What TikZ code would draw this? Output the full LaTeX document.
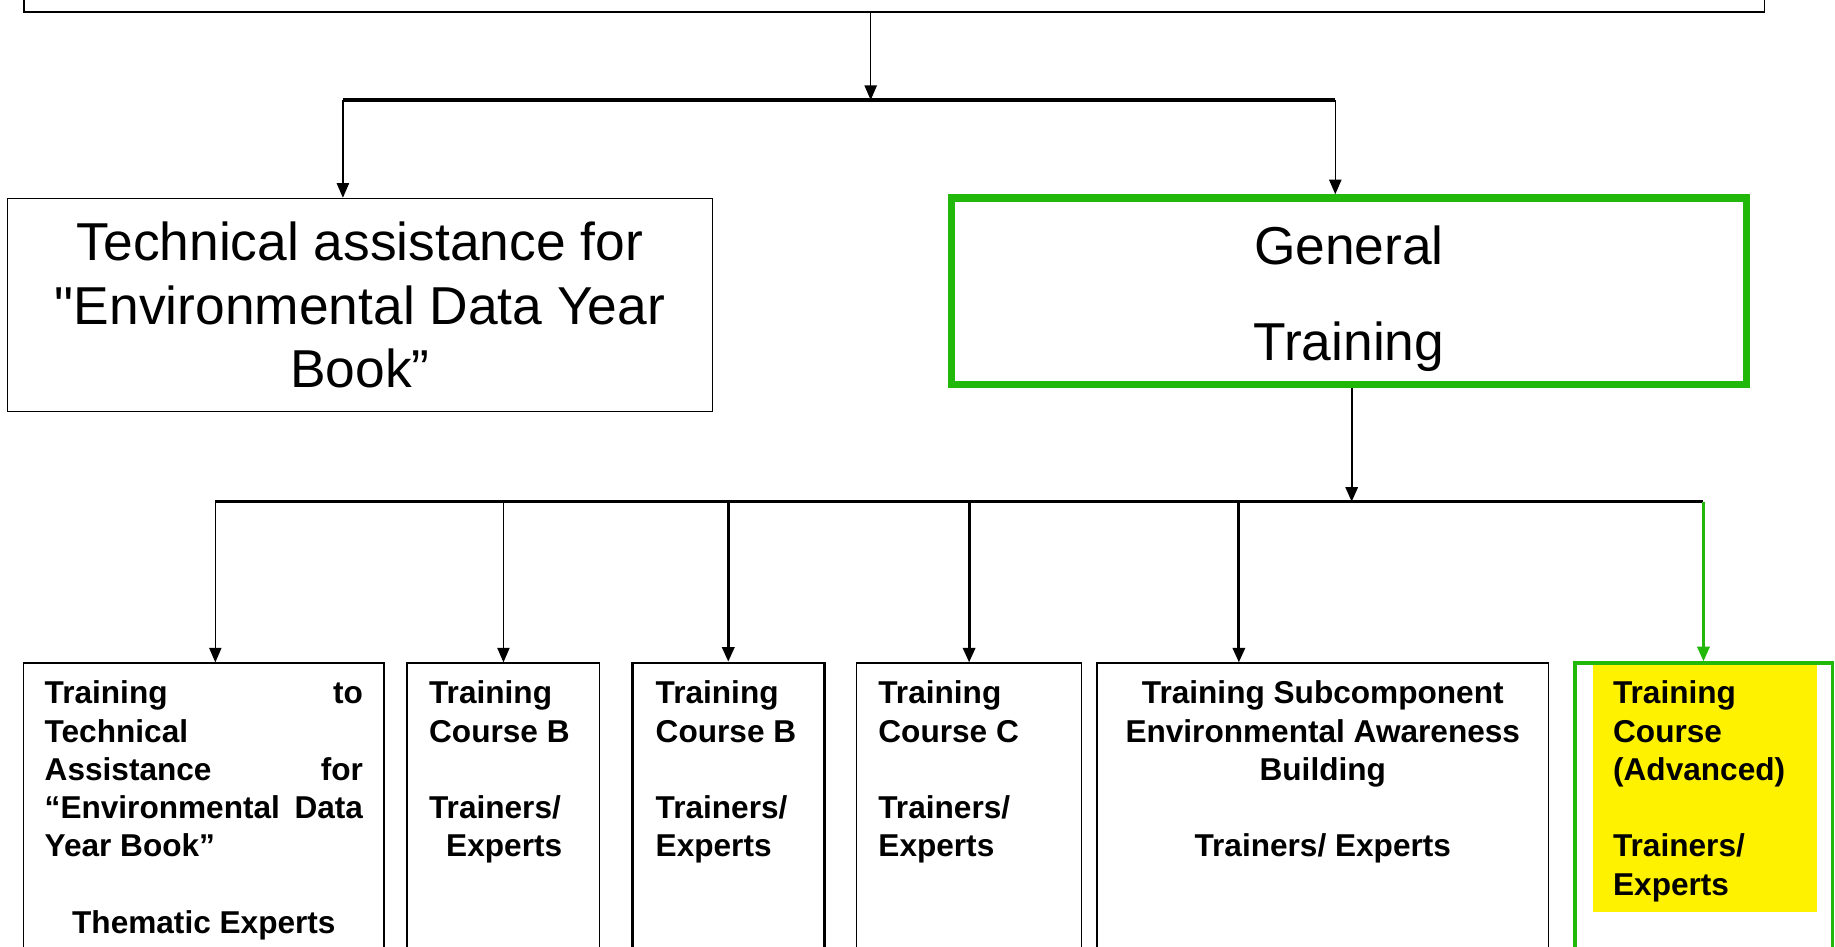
\documentclass[tikz,border=0pt]{standalone}
\usepackage{fontspec}
\setmainfont{Liberation Sans}
\usetikzlibrary{positioning, arrows.meta}
\definecolor{trainGreen}{RGB}{34,184,10}
\tikzset{x=1pt, y=-1pt, % One unit is one pixel of the scan, y runs down
plain box/.style={ % Thin black boxes of the upper levels
draw, rectangle, line width=1.2pt, inner sep=0pt},
general box/.style={ % The green box
draw=trainGreen, rectangle, line width=6.3pt, inner sep=0pt},
course/.style={ % Boxes of the bottom row
draw, rectangle, line width=1.2pt, inner xsep=18pt, inner ysep=12pt,
font=\fontsize{27}{32.7}\selectfont\bfseries},
link/.style={ % Connectors with a narrow triangle head
draw, -{Triangle[length=12.5pt,width=10.5pt]}, line width=1.2pt},
bus/.style={line width=3pt}}

\begin{document}
\begin{tikzpicture}

    \useasboundingbox (0,0) rectangle (1568,808.4);
    \clip (0,0) rectangle (1568,808.4);

    \node[plain box, anchor=south west, minimum width=1487pt, minimum height=80pt] (top) at (20,10.8) {};
    \node[plain box, anchor=north west, minimum width=602pt, minimum height=182pt, align=center,
        font=\fontsize{45.6}{54.2}\selectfont] (tech) at (6,169) {Technical assistance for\\\textquotedbl Environmental Data Year\\Book”};
    \node[general box, anchor=north west, minimum width=679pt, minimum height=159.5pt, align=center,
        font=\fontsize{45.6}{82.6}\selectfont] (general) at (810,166) {\rule{0pt}{46pt}General\\Training};

    \fill[yellow] (1361,566) rectangle (1553,779);

    \node[course, anchor=north west] (b1) at (19.6,566) {\parbox[t][280pt][t]{272pt}{\strut Training\hfill to\\ Technical\\ Assistance\hfill for\\ “Environmental\hfill Data\\ Year Book”\\[\baselineskip] \hspace*{\fill}Thematic Experts\hspace*{\fill}}};
    \node[course, right=18.5pt of b1, inner xsep=18.8pt] (b2) {\parbox[t][280pt][t]{127pt}{\strut Training\\ Course B\\[\baselineskip] Trainers/\\ \hspace*{14.6pt}Experts}};
    \node[course, right=26pt of b2, inner xsep=20pt, line width=2.4pt] (b3) {\parbox[t][280pt][t]{124pt}{\strut Training\\ Course B\\[\baselineskip] Trainers/\\ Experts}};
    \node[course, right=26pt of b3, inner xsep=18.5pt] (b4) {\parbox[t][280pt][t]{155pt}{\strut Training\\ Course C\\[\baselineskip] Trainers/\\ Experts}};
    \node[course, right=12pt of b4] (b5) {\parbox[t][280pt][t]{350pt}{\centering\strut Training Subcomponent\\ Environmental Awareness\\ Building\\[\baselineskip] Trainers/ Experts}};
    \node[course, right=20.5pt of b5, inner xsep=32.5pt, draw=trainGreen, line width=3pt] (b6) {\parbox[t][280pt][t]{155pt}{\strut Training\\ Course\\ (Advanced)\\[\baselineskip] Trainers/\\ Experts}};

    \coordinate (busAL) at (293,85.5);
    \coordinate (busAR) at (1141,85.5);
    \coordinate (busAmid) at (744,85.5);
    \coordinate (busBL) at (184,428.7);
    \coordinate (busBR) at (1455.6,428.7);
    \coordinate (busBmid) at (1155,428.7);
    \coordinate (drop5) at (1058.6,428.7);

    \draw[bus] (busAL) -- (busAR);
    \draw[link] (busAmid |- top.south) -- (busAmid);
    \draw[link] (busAL) -- (busAL |- tech.north);
    \draw[link] (busAR) -- (busAR |- general.north);

    \draw[bus] (busBL) -- (busBR);
    \draw[link, line width=2pt] (busBmid |- general.south) -- (busBmid);
    \draw[link] (busBL) -- (busBL |- b1.north);
    \draw[link] (b2.north |- busBL) -- (b2.north);
    \draw[link, line width=2.4pt] (b3.north |- busBL) -- (b3.north);
    \draw[link, line width=2.4pt] (b4.north |- busBL) -- (b4.north);
    \draw[link, line width=2.4pt] (drop5) -- (drop5 |- b5.north);
    \draw[link, draw=trainGreen, fill=trainGreen, line width=2pt] (busBR) -- (busBR |- b6.north);

\end{tikzpicture}
\end{document}
